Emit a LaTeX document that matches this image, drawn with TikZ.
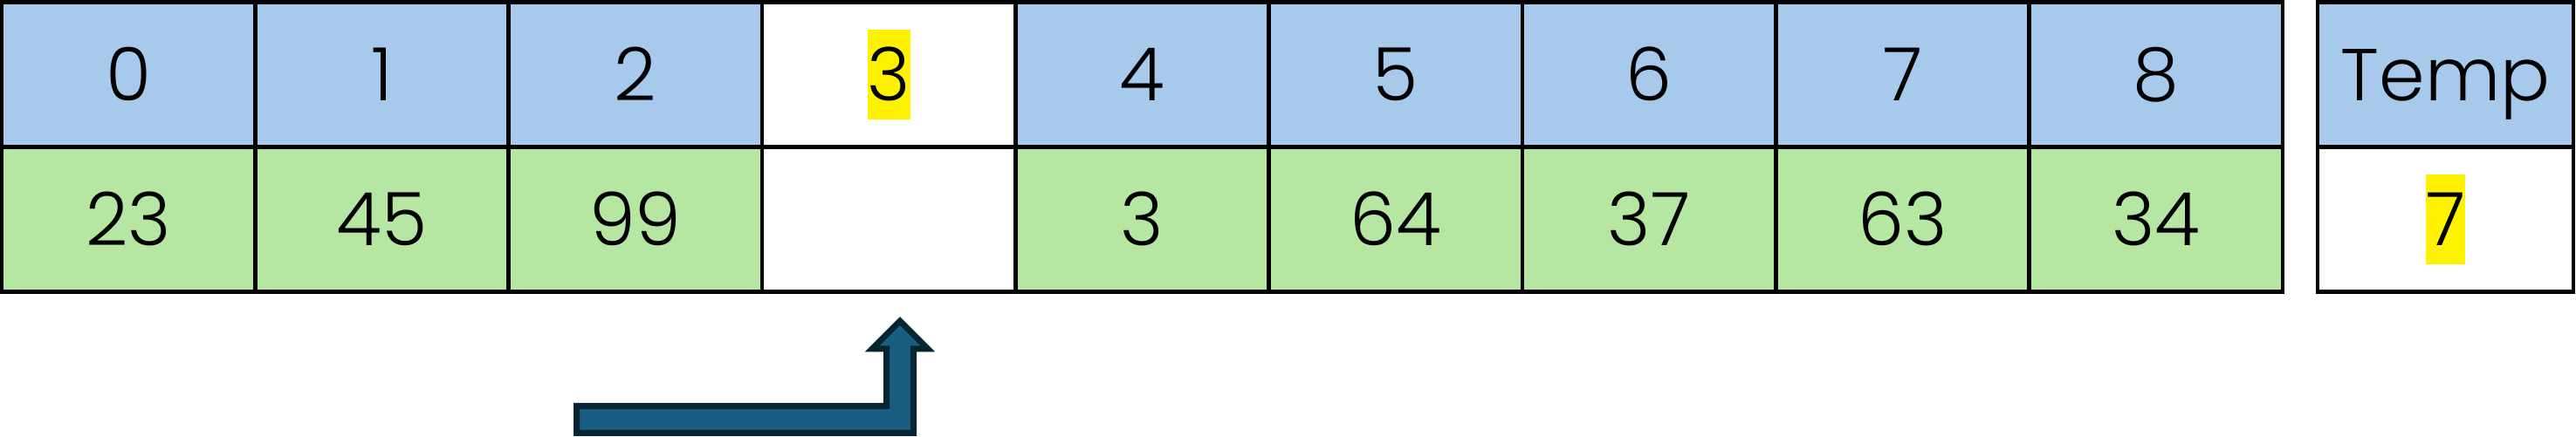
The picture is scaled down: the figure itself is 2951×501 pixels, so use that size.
\documentclass[tikz,border=0pt]{standalone}
\usepackage{fontspec}
\setmainfont{Poppins}[UprightFont=* Light]
\definecolor{hdr}{HTML}{A7C9EB}
\definecolor{val}{HTML}{B5E6A2}
\definecolor{arrfill}{HTML}{175E80}
\definecolor{arrline}{HTML}{062432}
\begin{document}
\begin{tikzpicture}[x=0.01cm,y=-0.01cm,
  cell/.style={draw=black, line width=0.045cm, minimum width=2.9033cm, minimum height=1.66cm,
    inner sep=0pt, font=\fontsize{24}{28}\selectfont, text height=17pt, text depth=0pt},
  hdrcell/.style={cell, fill=hdr},
  valcell/.style={cell, fill=val},
  emptycell/.style={cell, fill=white},
  hl/.style={fill=yellow, inner sep=0pt, minimum width=0.43cm, minimum height=1.03cm,
    font=\fontsize{24}{28}\selectfont, text height=17pt, text depth=0pt},
  bigarrow/.style={fill=arrfill, draw=arrline, line width=0.07cm, line join=miter}]
\useasboundingbox (0,0) rectangle (2951,501);
\foreach \i/\h/\v in {0/0/23,1/1/45,2/2/99,4/4/3,5/5/64,6/6/37,7/7/63,8/8/34} {
  \node[hdrcell] (h\i) at ({2+290.33*(\i+0.5)},85.5) {\h};
  \node[valcell] (v\i) at ({2+290.33*(\i+0.5)},251.5) {\v};
}
\node[emptycell] (h3) at (1018.2,85.5) {};
\node[hl] (k3) at (h3.center) {3};
\node[emptycell] (v3) at (1018.2,251.5) {};
\node[hdrcell, minimum width=2.93cm] (tH) at (2801.5,85.5) {Temp};
\node[emptycell, minimum width=2.93cm] (tV) at (2801.5,251.5) {};
\node[hl] (t7) at (tV.center) {7};
\draw[bigarrow] (660.5,465.5) -- (1015.5,465.5) -- (1015.5,400) -- (999,400) -- (1031,368)
  -- (1063,400) -- (1046.5,400) -- (1046.5,496.5) -- (660.5,496.5) -- cycle;
\end{tikzpicture}
\end{document}
